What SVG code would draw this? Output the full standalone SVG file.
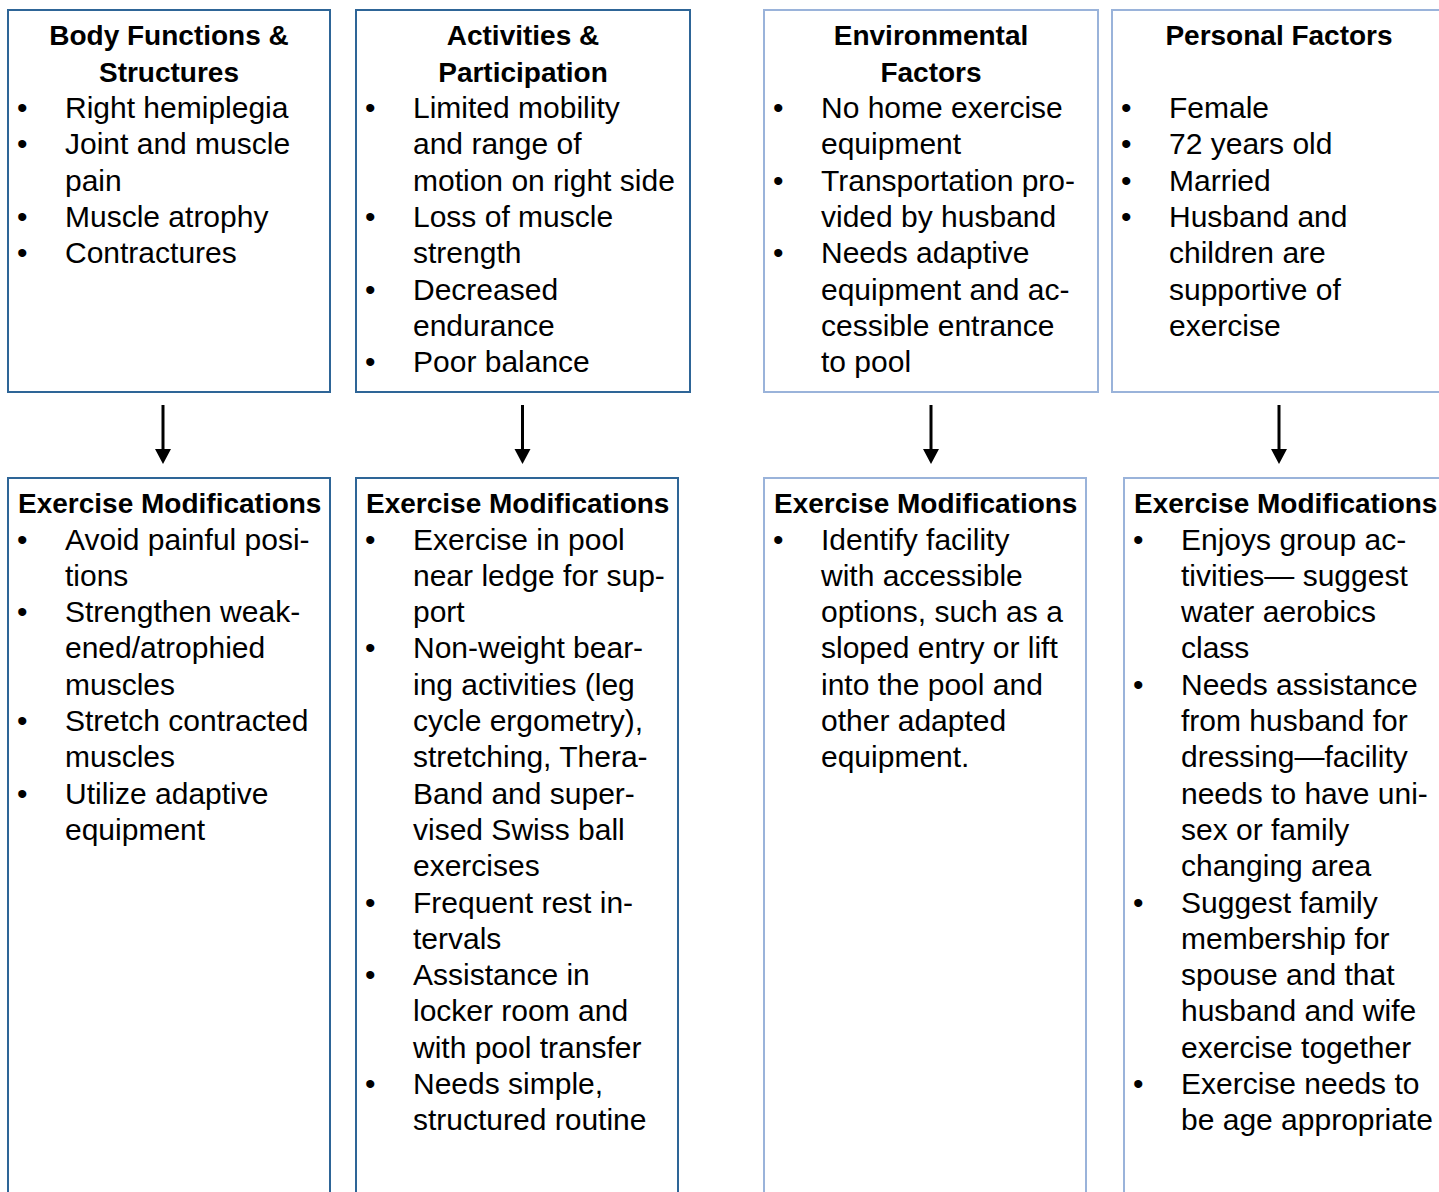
<svg xmlns="http://www.w3.org/2000/svg" width="1439" height="1192" viewBox="0 0 1439 1192">
<style>
.bg{fill:#ffffff}
.dk{fill:#ffffff;stroke:#2e6597;stroke-width:2}
.lt{fill:#ffffff;stroke:#9ab3da;stroke-width:2}
.h{font-family:"Liberation Sans",Arial,sans-serif;font-weight:bold;font-size:28px;fill:#000}
.hc{text-anchor:middle}
.t{font-family:"Liberation Sans",Arial,sans-serif;font-size:30px;fill:#000}
.ln{stroke:#000;stroke-width:3;fill:none}
.ah{fill:#000}
</style>
<rect class="bg" x="0" y="0" width="1439" height="1192"/>

<g id="body-functions">
<rect class="dk" x="8" y="10" width="322" height="382"/>
<text class="h hc" x="169" y="45">Body Functions &amp;</text>
<text class="h hc" x="169" y="81.5">Structures</text>
<text class="t" x="17" y="118">•</text><text class="t" x="65" y="118">Right hemiplegia</text>
<text class="t" x="17" y="154.3">•</text><text class="t" x="65" y="154.3">Joint and muscle</text>
<text class="t" x="65" y="190.6">pain</text>
<text class="t" x="17" y="226.9">•</text><text class="t" x="65" y="226.9">Muscle atrophy</text>
<text class="t" x="17" y="263.2">•</text><text class="t" x="65" y="263.2">Contractures</text>
</g>

<g id="activities">
<rect class="dk" x="356" y="10" width="334" height="382"/>
<text class="h hc" x="523" y="45">Activities &amp;</text>
<text class="h hc" x="523" y="81.5">Participation</text>
<text class="t" x="365" y="118">•</text><text class="t" x="413" y="118">Limited mobility</text>
<text class="t" x="413" y="154.3">and range of</text>
<text class="t" x="413" y="190.6">motion on right side</text>
<text class="t" x="365" y="226.9">•</text><text class="t" x="413" y="226.9">Loss of muscle</text>
<text class="t" x="413" y="263.2">strength</text>
<text class="t" x="365" y="299.5">•</text><text class="t" x="413" y="299.5">Decreased</text>
<text class="t" x="413" y="335.8">endurance</text>
<text class="t" x="365" y="372.1">•</text><text class="t" x="413" y="372.1">Poor balance</text>
</g>

<g id="environmental">
<rect class="lt" x="764" y="10" width="334" height="382"/>
<text class="h hc" x="931" y="45">Environmental</text>
<text class="h hc" x="931" y="81.5">Factors</text>
<text class="t" x="773" y="118">•</text><text class="t" x="821" y="118">No home exercise</text>
<text class="t" x="821" y="154.3">equipment</text>
<text class="t" x="773" y="190.6">•</text><text class="t" x="821" y="190.6">Transportation pro-</text>
<text class="t" x="821" y="226.9">vided by husband</text>
<text class="t" x="773" y="263.2">•</text><text class="t" x="821" y="263.2">Needs adaptive</text>
<text class="t" x="821" y="299.5">equipment and ac-</text>
<text class="t" x="821" y="335.8">cessible entrance</text>
<text class="t" x="821" y="372.1">to pool</text>
</g>

<g id="personal">
<rect class="lt" x="1112" y="10" width="334" height="382"/>
<text class="h hc" x="1279" y="45">Personal Factors</text>
<text class="t" x="1121" y="118">•</text><text class="t" x="1169" y="118">Female</text>
<text class="t" x="1121" y="154.3">•</text><text class="t" x="1169" y="154.3">72 years old</text>
<text class="t" x="1121" y="190.6">•</text><text class="t" x="1169" y="190.6">Married</text>
<text class="t" x="1121" y="226.9">•</text><text class="t" x="1169" y="226.9">Husband and</text>
<text class="t" x="1169" y="263.2">children are</text>
<text class="t" x="1169" y="299.5">supportive of</text>
<text class="t" x="1169" y="335.8">exercise</text>
</g>

<g id="mod-body">
<rect class="dk" x="8" y="478" width="322" height="730"/>
<text class="h" x="18" y="513">Exercise Modifications</text>
<text class="t" x="17" y="549.5">•</text><text class="t" x="65" y="549.5">Avoid painful posi-</text>
<text class="t" x="65" y="585.8">tions</text>
<text class="t" x="17" y="622.1">•</text><text class="t" x="65" y="622.1">Strengthen weak-</text>
<text class="t" x="65" y="658.4">ened/atrophied</text>
<text class="t" x="65" y="694.7">muscles</text>
<text class="t" x="17" y="731">•</text><text class="t" x="65" y="731">Stretch contracted</text>
<text class="t" x="65" y="767.3">muscles</text>
<text class="t" x="17" y="803.6">•</text><text class="t" x="65" y="803.6">Utilize adaptive</text>
<text class="t" x="65" y="839.9">equipment</text>
</g>

<g id="mod-activities">
<rect class="dk" x="356" y="478" width="322" height="730"/>
<text class="h" x="366" y="513">Exercise Modifications</text>
<text class="t" x="365" y="549.5">•</text><text class="t" x="413" y="549.5">Exercise in pool</text>
<text class="t" x="413" y="585.8">near ledge for sup-</text>
<text class="t" x="413" y="622.1">port</text>
<text class="t" x="365" y="658.4">•</text><text class="t" x="413" y="658.4">Non-weight bear-</text>
<text class="t" x="413" y="694.7">ing activities (leg</text>
<text class="t" x="413" y="731">cycle ergometry),</text>
<text class="t" x="413" y="767.3">stretching, Thera-</text>
<text class="t" x="413" y="803.6">Band and super-</text>
<text class="t" x="413" y="839.9">vised Swiss ball</text>
<text class="t" x="413" y="876.2">exercises</text>
<text class="t" x="365" y="912.5">•</text><text class="t" x="413" y="912.5">Frequent rest in-</text>
<text class="t" x="413" y="948.8">tervals</text>
<text class="t" x="365" y="985.1">•</text><text class="t" x="413" y="985.1">Assistance in</text>
<text class="t" x="413" y="1021.4">locker room and</text>
<text class="t" x="413" y="1057.7">with pool transfer</text>
<text class="t" x="365" y="1094">•</text><text class="t" x="413" y="1094">Needs simple,</text>
<text class="t" x="413" y="1130.3">structured routine</text>
</g>

<g id="mod-environmental">
<rect class="lt" x="764" y="478" width="322" height="730"/>
<text class="h" x="774" y="513">Exercise Modifications</text>
<text class="t" x="773" y="549.5">•</text><text class="t" x="821" y="549.5">Identify facility</text>
<text class="t" x="821" y="585.8">with accessible</text>
<text class="t" x="821" y="622.1">options, such as a</text>
<text class="t" x="821" y="658.4">sloped entry or lift</text>
<text class="t" x="821" y="694.7">into the pool and</text>
<text class="t" x="821" y="731">other adapted</text>
<text class="t" x="821" y="767.3">equipment.</text>
</g>

<g id="mod-personal">
<rect class="lt" x="1124" y="478" width="330" height="730"/>
<text class="h" x="1134" y="513">Exercise Modifications</text>
<text class="t" x="1133" y="549.5">•</text><text class="t" x="1181" y="549.5">Enjoys group ac-</text>
<text class="t" x="1181" y="585.8">tivities— suggest</text>
<text class="t" x="1181" y="622.1">water aerobics</text>
<text class="t" x="1181" y="658.4">class</text>
<text class="t" x="1133" y="694.7">•</text><text class="t" x="1181" y="694.7">Needs assistance</text>
<text class="t" x="1181" y="731">from husband for</text>
<text class="t" x="1181" y="767.3">dressing—facility</text>
<text class="t" x="1181" y="803.6">needs to have uni-</text>
<text class="t" x="1181" y="839.9">sex or family</text>
<text class="t" x="1181" y="876.2">changing area</text>
<text class="t" x="1133" y="912.5">•</text><text class="t" x="1181" y="912.5">Suggest family</text>
<text class="t" x="1181" y="948.8">membership for</text>
<text class="t" x="1181" y="985.1">spouse and that</text>
<text class="t" x="1181" y="1021.4">husband and wife</text>
<text class="t" x="1181" y="1057.7">exercise together</text>
<text class="t" x="1133" y="1094">•</text><text class="t" x="1181" y="1094">Exercise needs to</text>
<text class="t" x="1181" y="1130.3">be age appropriate</text>
</g>

<g id="connectors">
<line class="ln" x1="163" y1="405" x2="163" y2="451"/>
<polygon class="ah" points="155,449 171,449 163,464"/>
<line class="ln" x1="522.5" y1="405" x2="522.5" y2="451"/>
<polygon class="ah" points="514.5,449 530.5,449 522.5,464"/>
<line class="ln" x1="931" y1="405" x2="931" y2="451"/>
<polygon class="ah" points="923,449 939,449 931,464"/>
<line class="ln" x1="1279" y1="405" x2="1279" y2="451"/>
<polygon class="ah" points="1271,449 1287,449 1279,464"/>
</g>
</svg>
